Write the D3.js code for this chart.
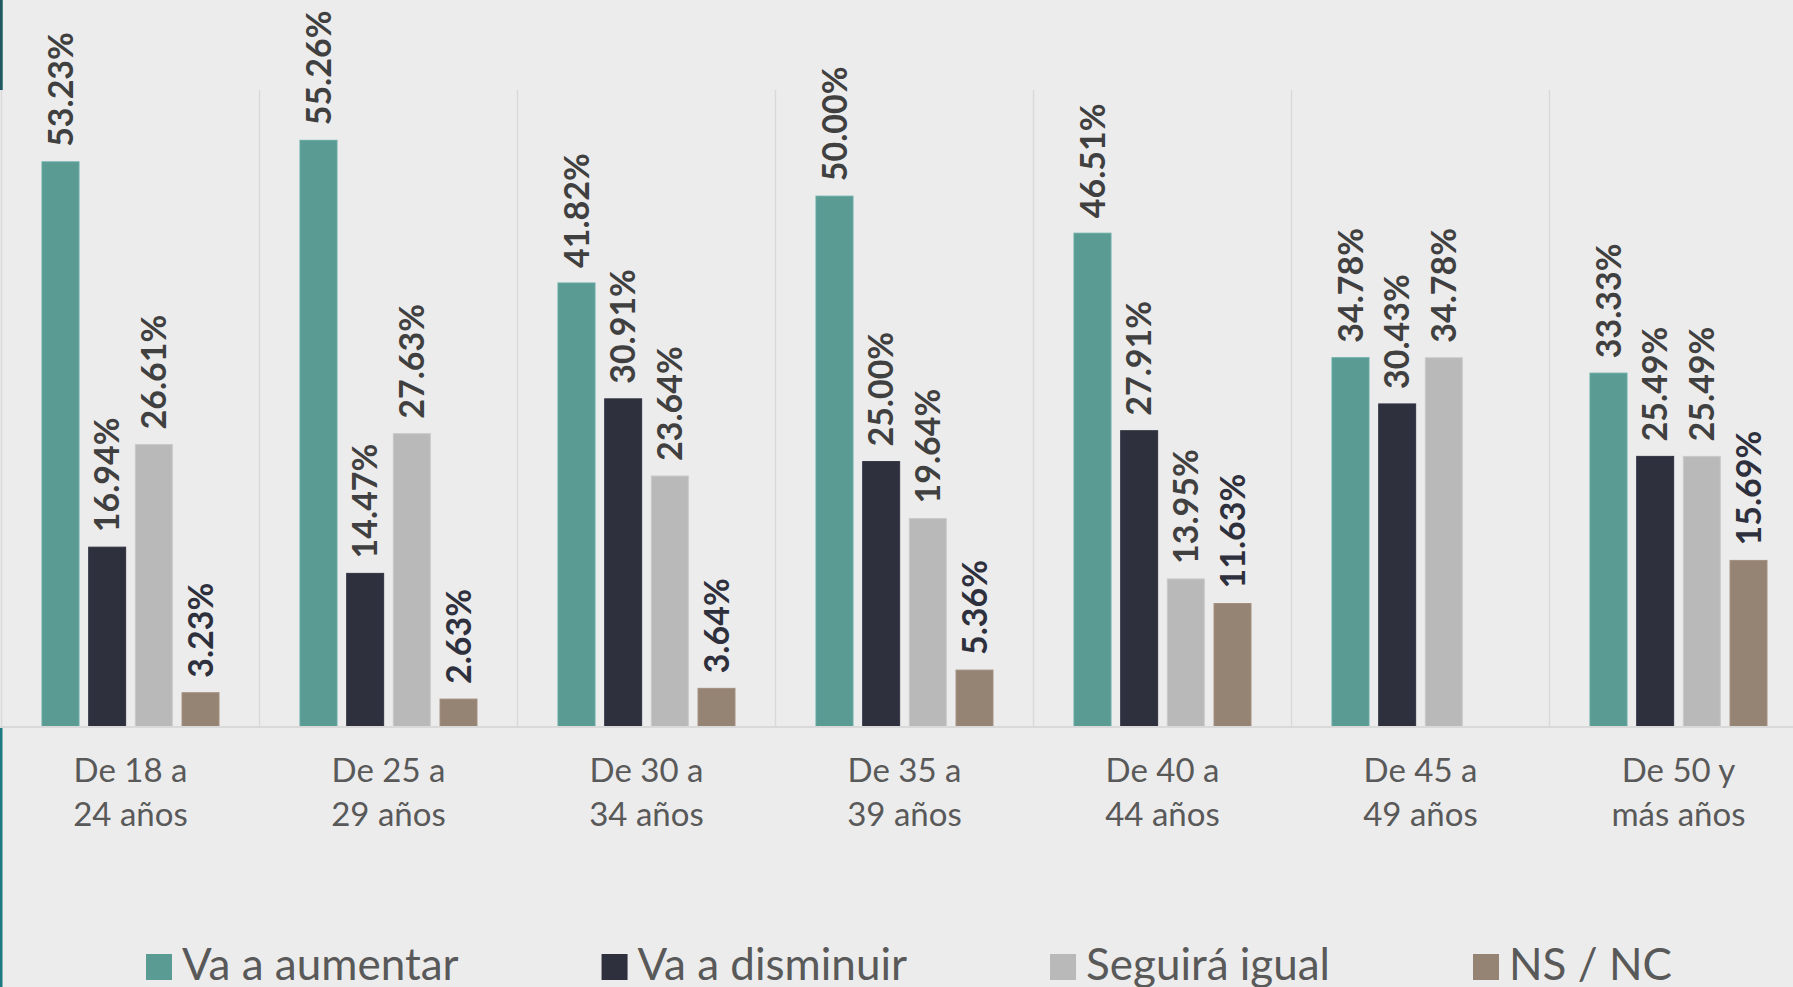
<!DOCTYPE html>
<html>
<head>
<meta charset="utf-8">
<script src="https://cdn.jsdelivr.net/npm/d3@7"></script>
<style>
    html, body { margin: 0; padding: 0; background: #ECECEC; overflow: hidden; }
    svg { display: block; font-family: Lato, "Open Sans", sans-serif; }
</style>
</head>
<body>
<div id="chart"></div>
<script>

// Age groups (two lines each)
const categories = ["De 18 a|24 años", "De 25 a|29 años", "De 30 a|34 años", "De 35 a|39 años",
                    "De 40 a|44 años", "De 45 a|49 años", "De 50 y|más años"];
const seriesNames = ["Va a aumentar", "Va a disminuir", "Seguirá igual", "NS / NC"];
const seriesColors = ["#5A9B94", "#2E303D", "#B9B9B9", "#958374"];
const labelColors = ["#404040", "#404040", "#404040", "#2E303D"];

// Percentages per series
const aumentar   = [53.23, 55.26, 41.82, 50.00, 46.51, 34.78, 33.33];
const disminuir  = [16.94, 14.47, 30.91, 25.00, 27.91, 30.43, 25.49];
const igual      = [26.61, 27.63, 23.64, 19.64, 13.95, 34.78, 25.49];
const nsnc       = [3.23, 2.63, 3.64, 5.36, 11.63, null, 15.69];
const seriesValues = [aumentar, disminuir, igual, nsnc];

const width = 1793, height = 987;
const margin = {top: 90, left: 1.5, bottom: 727};

let svg = d3.select("#chart").append("svg")
    .attr("width", width)
    .attr("height", height);

svg.append("rect")
    .attr("width", width)
    .attr("height", height)
    .attr("fill", "#ECECEC");

// dark teal strip on the left edge
svg.append("rect").attr("x", 0).attr("y", 0).attr("width", 2.5).attr("height", height).attr("fill", "#1B7A82");
svg.append("rect").attr("x", 0).attr("y", 0).attr("width", 2.5).attr("height", margin.top).attr("fill", "#21575E");

// plot area covers the strip
svg.append("rect")
    .attr("x", 0)
    .attr("y", margin.top)
    .attr("width", width)
    .attr("height", margin.bottom - margin.top)
    .attr("fill", "#ECECEC");

// scales (the plot runs past the right edge, as in the source)
let x0 = d3.scaleBand()
    .domain(categories)
    .range([margin.left, margin.left + 7 * 258]);

let x1 = d3.scaleBand()
    .domain(seriesNames)
    .range([40.5, 258 - 40.5])
    .paddingInner(0.208);

let y = d3.scaleLinear()
    .domain([0, 60])
    .range([margin.bottom, margin.top]);

// category separators
svg.append("g").selectAll("line")
    .data(categories)
    .enter().append("line")
    .attr("x1", d => x0(d))
    .attr("x2", d => x0(d))
    .attr("y1", y(60))
    .attr("y2", y(0))
    .attr("stroke", "#D9D9D9")
    .attr("stroke-width", 1.5);

// bars
let rows = [];
categories.forEach((c, i) => {
    seriesNames.forEach((s, j) => {
        if (seriesValues[j][i] !== null) rows.push({cat: c, s: s, j: j, v: seriesValues[j][i]});
    });
});

svg.append("g").selectAll("rect")
    .data(rows)
    .enter().append("rect")
    .attr("x", d => x0(d.cat) + x1(d.s))
    .attr("y", d => y(d.v))
    .attr("width", x1.bandwidth())
    .attr("height", d => y(0) - y(d.v))
    .attr("fill", d => seriesColors[d.j])
    .attr("stroke", d => d3.color(seriesColors[d.j]).brighter(0.25))
    .attr("stroke-width", 1);

// axis base line
svg.append("line")
    .attr("x1", 0).attr("x2", width)
    .attr("y1", y(0)).attr("y2", y(0))
    .attr("stroke", "#D9D9D9")
    .attr("stroke-width", 2);

// value labels, rotated
svg.append("g").selectAll("text")
    .data(rows)
    .enter().append("text")
    .attr("transform", d => "translate(" + (x0(d.cat) + x1(d.s) + x1.bandwidth() / 2) + "," + (y(d.v) - 15) + ") rotate(-90)")
    .attr("dy", "0.36em")
    .attr("text-anchor", "start")
    .attr("font-size", 34)
    .attr("font-weight", "bold")
    .attr("fill", d => labelColors[d.j])
    .text(d => d.v.toFixed(2) + "%");

// category labels
let catText = svg.append("g").selectAll("text")
    .data(categories)
    .enter().append("text")
    .attr("x", d => x0(d) + x0.bandwidth() / 2)
    .attr("y", 782)
    .attr("text-anchor", "middle")
    .attr("font-size", 33)
    .attr("fill", "#595959");
catText.append("tspan")
    .attr("x", d => x0(d) + x0.bandwidth() / 2)
    .text(d => d.split("|")[0]);
catText.append("tspan")
    .attr("x", d => x0(d) + x0.bandwidth() / 2)
    .attr("dy", 44)
    .text(d => d.split("|")[1]);

// legend
let legend = svg.append("g");
let lx = 146;
seriesNames.forEach((s, j) => {
    legend.append("rect")
        .attr("x", lx).attr("y", 954)
        .attr("width", 26).attr("height", 26)
        .attr("fill", seriesColors[j]);
    let t = legend.append("text")
        .attr("x", lx + 36)
        .attr("y", 980)
        .attr("font-size", 44)
        .attr("fill", "#595959")
        .text(s);
    lx = lx + 36 + t.node().getComputedTextLength() + 143;
});

</script>
</body>
</html>
